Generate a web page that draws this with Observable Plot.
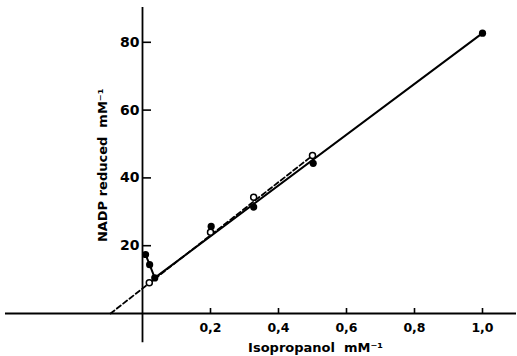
<!DOCTYPE html>
<html>
<head>
<meta charset="utf-8">
<script src="https://cdn.jsdelivr.net/npm/d3@7"></script>
<script src="https://cdn.jsdelivr.net/npm/@observablehq/plot@0.6"></script>
<style>
  html, body { margin: 0; padding: 0; background: #fff; }
  svg { display: block; }
</style>
</head>
<body>
<div id="chart"></div>
<script>
// Filled circles (series 1)
const filledX = [0.009, 0.021, 0.036, 0.202, 0.327, 0.502, 1.0];
const filledY = [17.4, 14.4, 10.5, 25.7, 31.4, 44.3, 82.7];
// Open circles (series 2)
const openX = [0.02, 0.2, 0.327, 0.5];
const openY = [9.1, 24.0, 34.3, 46.6];
// Solid fitted line (through the near-zero filled points, then the fit)
const solidX = [0.009, 0.021, 0.036, 1.0];
const solidY = [17.4, 14.4, 10.5, 82.7];
// Dashed fitted line
const dashX = [-0.094, 0.495];
const dashY = [0, 46.2];
// Ticks
const xTicks = [0.2, 0.4, 0.6, 0.8, 1.0];
const xTickLabels = ["0,2", "0,4", "0,6", "0,8", "1,0"];
const yTicks = [20, 40, 60, 80];
const yTickLabels = ["20", "40", "60", "80"];
const xTitle = "Isopropanol  mM⁻¹";
const yTitle = "NADP reduced  mM⁻¹";

const filled = filledX.map((x, i) => ({x, y: filledY[i]}));
const open = openX.map((x, i) => ({x, y: openY[i]}));
const solid = solidX.map((x, i) => ({x, y: solidY[i]}));
const dashed = dashX.map((x, i) => ({x, y: dashY[i]}));
const xt = xTicks.map((v, i) => ({v, label: xTickLabels[i]}));
const yt = yTicks.map((v, i) => ({v, label: yTickLabels[i]}));

const W = 517, H = 356;
const chart = Plot.plot({
  width: W,
  height: H,
  margin: 0,
  style: {fontFamily: "DejaVu Sans", background: "#fff", color: "#000", overflow: "visible"},
  x: {domain: [-142 / 340, (W - 142) / 340], range: [0, W], axis: null},
  y: {domain: [-(H - 313) / 3.39, 313 / 3.39], range: [H, 0], axis: null},
  marks: [
    // axes
    Plot.ruleY([0], {x1: -0.403, x2: 1.1, stroke: "#000", strokeWidth: 1.8}),
    Plot.ruleX([0], {y1: -8.6, y2: 90.3, stroke: "#000", strokeWidth: 1.8}),
    // x ticks
    Plot.ruleX(xt, {x: "v", y1: 0, y2: 5 / 3.39, stroke: "#000", strokeWidth: 1.6}),
    Plot.text(xt, {x: "v", y: 0, dy: 14, text: "label", fontSize: 12.5, fontWeight: "bold", fill: "#000", letterSpacing: -1}),
    // y ticks
    Plot.ruleY(yt, {y: "v", x1: 0, x2: 9 / 340, stroke: "#000", strokeWidth: 1.6}),
    Plot.text(yt, {x: 0, y: "v", dx: -3, textAnchor: "end", text: "label", fontSize: 14, fontWeight: "bold", fill: "#000"}),
    // fitted lines
    Plot.line(dashed, {x: "x", y: "y", stroke: "#000", strokeWidth: 1.8, strokeDasharray: "5,3"}),
    Plot.line(solid, {x: "x", y: "y", stroke: "#000", strokeWidth: 2}),
    // points
    Plot.dot(open, {x: "x", y: "y", r: 3, stroke: "#000", strokeWidth: 1.5, fill: "#fff"}),
    Plot.dot(filled, {x: "x", y: "y", r: 3.6, fill: "#000", stroke: "none"}),
    // titles
    Plot.text([xTitle], {x: 0.509, y: -10, text: d => d, fontSize: 13, fontWeight: "bold", fill: "#000", textAnchor: "middle"}),
    Plot.text([yTitle], {x: -0.118, y: 43.7, text: d => d, fontSize: 13, fontWeight: "bold", fill: "#000", rotate: -90, textAnchor: "middle"})
  ]
});
document.getElementById("chart").appendChild(chart);
</script>
</body>
</html>
